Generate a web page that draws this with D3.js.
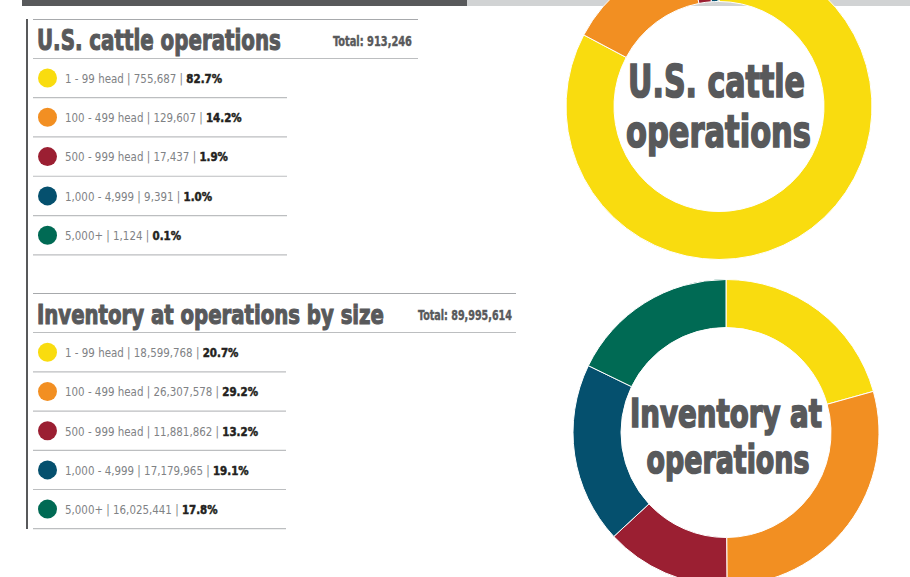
<!DOCTYPE html>
<html>
<head>
<meta charset="utf-8">
<script src="https://cdn.jsdelivr.net/npm/d3@7"></script>
<style>
  body { margin: 0; background: #fff; }
  svg { display: block; }
  .heavy { font-family: "Liberation Sans Narrow", "DejaVu Sans Condensed", "Arial Narrow", sans-serif; font-weight: bold; font-stretch: condensed; }
  .light { font-family: "Liberation Sans Narrow", "DejaVu Sans Condensed", "Arial Narrow", sans-serif; font-stretch: condensed; }
</style>
</head>
<body>
<script>
// datos
var categories = ["1 - 99 head", "100 - 499 head", "500 - 999 head", "1,000 - 4,999", "5,000+"];
var operations = [755687, 129607, 17437, 9391, 1124];
var operationsPct = ["82.7%", "14.2%", "1.9%", "1.0%", "0.1%"];
var inventory = [18599768, 26307578, 11881862, 17179965, 16025441];
var inventoryPct = ["20.7%", "29.2%", "13.2%", "19.1%", "17.8%"];
var totals = ["913,246", "89,995,614"];
var colors = ["#f9dc0f", "#f28f22", "#9b1f32", "#05506e", "#006a54"];

var width = 910, height = 577;
var grisOscuro = "#58595b";
var format = d3.format(",d");

var svg = d3.select("body").append("svg")
    .attr("width", width)
    .attr("height", height);

// ajusta el ancho de un texto escalando en x (como una fuente condensada)
function ajustar(sel, x, y, w) {
    var natural = sel.node().getComputedTextLength();
    var s = w / natural;
    sel.attr("x", 0).attr("y", 0)
       .attr("transform", "translate(" + x + "," + y + ") scale(" + s + ",1)");
}

// barra superior
svg.append("rect").attr("x", 22).attr("y", 0).attr("width", 445).attr("height", 6).attr("fill", grisOscuro);
svg.append("rect").attr("x", 467).attr("y", 0).attr("width", width - 467).attr("height", 6).attr("fill", "#d1d3d4");

// linea vertical izquierda
svg.append("line")
    .attr("x1", 27).attr("x2", 27).attr("y1", 19).attr("y2", 529)
    .attr("stroke", grisOscuro).attr("stroke-width", 2);

function seccion(cfg) {
    var g = svg.append("g");

    g.append("line").attr("x1", 33).attr("x2", cfg.lineEnd).attr("y1", cfg.top).attr("y2", cfg.top)
        .attr("stroke", "#a7a9ac").attr("stroke-width", 1.2);
    g.append("line").attr("x1", 33).attr("x2", cfg.lineEnd).attr("y1", cfg.top + cfg.headH).attr("y2", cfg.top + cfg.headH)
        .attr("stroke", "#bcbec0").attr("stroke-width", 1.2);

    var titulo = g.append("text").attr("class", "heavy")
        .attr("font-size", cfg.titleSize)
        .attr("fill", grisOscuro)
        .attr("stroke", grisOscuro).attr("stroke-width", 1.1)
        .text(cfg.title);
    ajustar(titulo, 37, cfg.titleY, cfg.titleW);

    var total = g.append("text").attr("class", "heavy")
        .attr("font-size", 13.5)
        .attr("fill", grisOscuro)
        .attr("stroke", grisOscuro).attr("stroke-width", 0.4)
        .text("Total: " + cfg.total);
    ajustar(total, cfg.totalX, cfg.totalY, cfg.totalW);

    var y = d3.scaleLinear().domain([0, 1]).range([cfg.firstRow, cfg.firstRow + cfg.rowH]);

    var filas = g.selectAll(".fila")
        .data(categories)
        .enter().append("g")
        .attr("class", "fila")
        .attr("transform", function(d, i) { return "translate(0," + y(i) + ")"; });

    filas.append("circle")
        .attr("cx", 47.5).attr("cy", 0).attr("r", 9.5)
        .attr("fill", function(d, i) { return colors[i]; });

    filas.append("line")
        .attr("x1", 33).attr("x2", cfg.rowLineEnd)
        .attr("y1", cfg.rowH / 2).attr("y2", cfg.rowH / 2)
        .attr("stroke", "#bcbec0").attr("stroke-width", 1.2);

    var t = filas.append("text")
        .attr("transform", "translate(65,4.8) scale(0.88,1)")
        .attr("font-size", 13);
    t.append("tspan").attr("class", "light").attr("fill", "#808285")
        .text(function(d, i) { return d + " | " + format(cfg.values[i]) + " | "; });
    t.append("tspan").attr("class", "heavy").attr("fill", "#231f20")
        .attr("stroke", "#231f20").attr("stroke-width", 0.5)
        .text(function(d, i) { return cfg.pct[i]; });
}

seccion({
    title: "U.S. cattle operations", titleW: 244, titleSize: 29, titleY: 50,
    total: totals[0], totalX: 333, totalY: 46, totalW: 79,
    top: 19.5, headH: 39, lineEnd: 418, rowLineEnd: 287,
    firstRow: 78, rowH: 39.3,
    values: operations, pct: operationsPct
});

seccion({
    title: "Inventory at operations by size", titleW: 347, titleSize: 27, titleY: 324,
    total: totals[1], totalX: 418, totalY: 320, totalW: 94,
    top: 293.5, headH: 39, lineEnd: 516, rowLineEnd: 286,
    firstRow: 352.3, rowH: 39.2,
    values: inventory, pct: inventoryPct
});

// donas
var pie = d3.pie().sort(null).value(function(d) { return d; });
var arc = d3.arc().innerRadius(105).outerRadius(153);

function dona(valores, cx, cy, lineas) {
    var g = svg.append("g").attr("transform", "translate(" + cx + "," + cy + ")");
    g.selectAll("path")
        .data(pie(valores))
        .enter().append("path")
        .attr("d", arc)
        .attr("fill", function(d, i) { return colors[i]; })
        .attr("stroke", "#fff")
        .attr("stroke-width", 1);

    lineas.forEach(function(d) {
        var t = g.append("text")
            .attr("class", "heavy")
            .attr("text-anchor", "middle")
            .attr("font-size", d.size)
            .attr("fill", grisOscuro)
            .attr("stroke", grisOscuro).attr("stroke-width", 1.6)
            .text(d.text);
        ajustar(t, d.dx, d.dy, d.w);
    });
}

dona(operations, 719, 106.5, [
    {text: "U.S. cattle", dx: -2.5, dy: -9.8, size: 44, w: 177},
    {text: "operations", dx: -0.5, dy: 40.2, size: 44, w: 185}
]);

dona(inventory, 726, 432.5, [
    {text: "Inventory at", dx: 0, dy: -5.8, size: 39, w: 192},
    {text: "operations", dx: 2, dy: 40.8, size: 39, w: 163}
]);
</script>
</body>
</html>
